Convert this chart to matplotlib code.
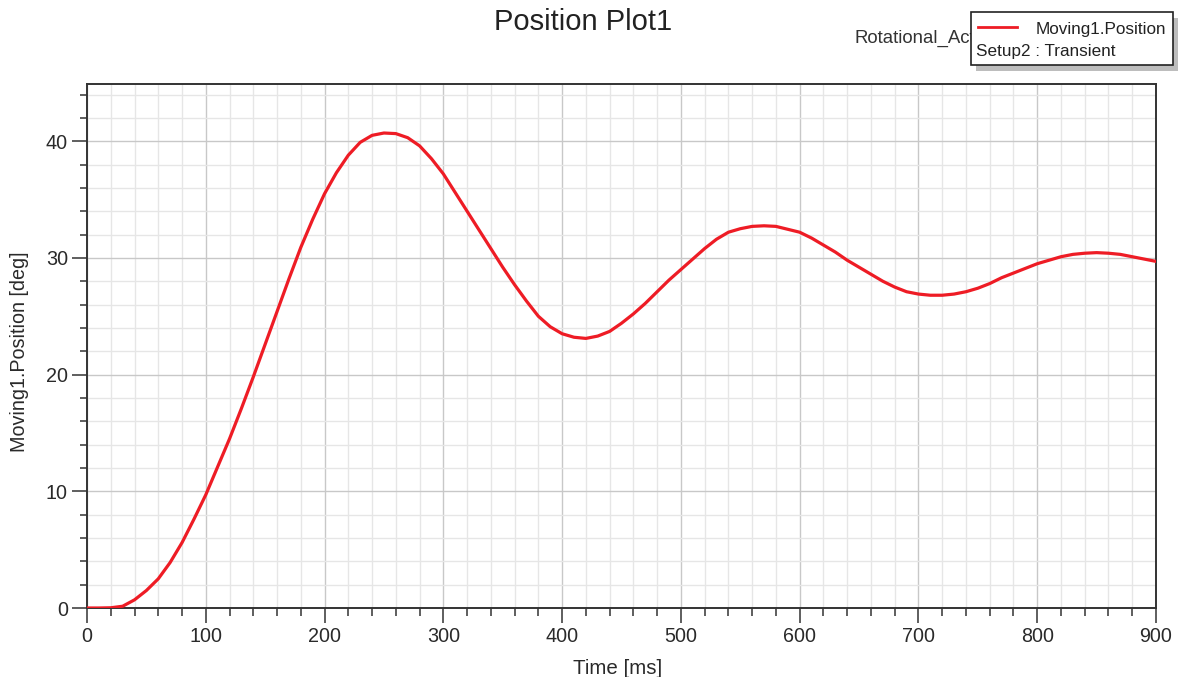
import numpy as np
import matplotlib
matplotlib.use("Agg")
import matplotlib.pyplot as plt
from matplotlib.ticker import MultipleLocator
from matplotlib.patches import Rectangle
from matplotlib.lines import Line2D

plt.rcParams['font.family'] = ['Liberation Sans', 'DejaVu Sans']

# values
time_ms = [0, 10, 20, 30, 40, 50, 60, 70, 80, 90,
           100, 110, 120, 130, 140, 150, 160, 170, 180, 190,
           200, 210, 220, 230, 240, 250, 260, 270, 280, 290,
           300, 310, 320, 330, 340, 350, 360, 370, 380, 390,
           400, 410, 420, 430, 440, 450, 460, 470, 480, 490,
           500, 510, 520, 530, 540, 550, 560, 570, 580, 590,
           600, 610, 620, 630, 640, 650, 660, 670, 680, 690,
           700, 710, 720, 730, 740, 750, 760, 770, 780, 790,
           800, 810, 820, 830, 840, 850, 860, 870, 880, 890, 900]
position_deg = [0, 0, 0.02, 0.15, 0.7, 1.5, 2.5, 3.9, 5.6, 7.6,
                9.7, 12.1, 14.5, 17.1, 19.8, 22.6, 25.4, 28.2, 30.9, 33.3,
                35.5, 37.3, 38.8, 39.9, 40.5, 40.7, 40.65, 40.3, 39.6, 38.5,
                37.2, 35.6, 34.0, 32.4, 30.8, 29.2, 27.7, 26.3, 25.0, 24.1,
                23.5, 23.2, 23.1, 23.3, 23.7, 24.4, 25.2, 26.1, 27.1, 28.1,
                29.0, 29.9, 30.8, 31.6, 32.2, 32.5, 32.7, 32.75, 32.7, 32.45,
                32.2, 31.7, 31.1, 30.5, 29.8, 29.2, 28.6, 28.0, 27.5, 27.1,
                26.9, 26.8, 26.8, 26.9, 27.1, 27.4, 27.8, 28.3, 28.7, 29.1,
                29.5, 29.8, 30.1, 30.3, 30.4, 30.45, 30.4, 30.3, 30.1, 29.9, 29.7]

RED = '#ee1c25'
W, H = 1179, 677

fig = plt.figure(figsize=(11.79, 6.77), dpi=100)
ax = fig.add_axes([87 / W, 1 - 608 / H, 1069 / W, 524 / H])

ax.plot(time_ms, position_deg, color=RED, lw=2.3, zorder=3)

ax.set_xlim(0, 900)
ax.set_ylim(0, 44.9)
ax.xaxis.set_major_locator(MultipleLocator(100))
ax.xaxis.set_minor_locator(MultipleLocator(20))
ax.yaxis.set_major_locator(MultipleLocator(10))
ax.yaxis.set_minor_locator(MultipleLocator(2))
ax.grid(which='major', color='#c8c8c8', lw=1.0)
ax.grid(which='minor', color='#e6e6e6', lw=1.0)
ax.set_axisbelow(True)

for s in ax.spines.values():
    s.set_color('#333333')
    s.set_linewidth(1.4)
ax.tick_params(which='major', length=10.8, width=1.1, color='#333333',
               labelsize=14.2, labelcolor='#2a2a2a', pad=3)
ax.tick_params(which='minor', length=5.4, width=1.1, color='#333333')

ax.set_xlabel('Time [ms]', fontsize=14.8, color='#2a2a2a')
ax.xaxis.set_label_coords(618 / W, 1 - 668 / H, transform=fig.transFigure)
ax.set_ylabel('Moving1.Position [deg]', fontsize=14.2, color='#2a2a2a')
ax.yaxis.set_label_coords(20 / W, 1 - 352 / H, transform=fig.transFigure)
ax.xaxis.label.set_va('center')
ax.yaxis.label.set_va('center')

fig.text(583 / W, 1 - 22 / H, 'Position Plot1', ha='center', va='center',
         fontsize=21, color='#222222')
fig.text(855 / W, 1 - 38 / H, 'Rotational_Actuator', ha='left', va='center',
         fontsize=13.4, color='#333333', zorder=1)

# legend box drawn by hand (ANSYS style)
bx, by, bw, bh = 971 / W, 1 - 65 / H, 202 / W, 53 / H
fig.add_artist(Rectangle((bx + 5 / W, by - 6 / H), bw, bh,
                         transform=fig.transFigure, facecolor='#bdbdbd',
                         edgecolor='none', zorder=4))
fig.add_artist(Rectangle((bx, by), bw, bh, transform=fig.transFigure,
                         facecolor='white', edgecolor='#222222', lw=1.2, zorder=5))
fig.add_artist(Line2D([978 / W, 1017 / W], [1 - 27 / H, 1 - 27 / H],
                      transform=fig.transFigure, color=RED, lw=2, zorder=6))
fig.text(1036 / W, 1 - 29.5 / H, 'Moving1.Position', ha='left', va='center',
         fontsize=12.3, color='#222222', zorder=6)
fig.text(976 / W, 1 - 51.5 / H, 'Setup2 : Transient', ha='left', va='center',
         fontsize=12.3, color='#222222', zorder=6)

fig.savefig('out.png', dpi=100)
